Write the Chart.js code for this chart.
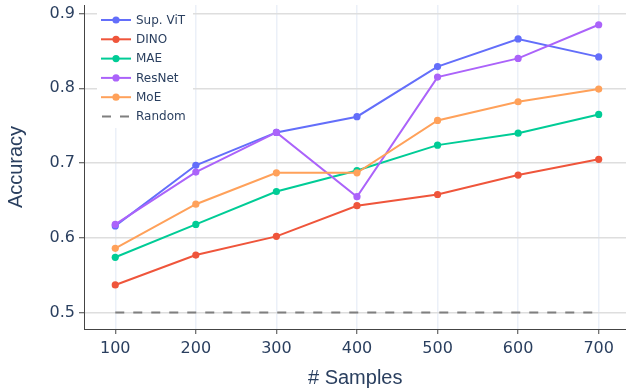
<!DOCTYPE html>
<html>
<head>
<meta charset="utf-8">
<script src="https://cdn.jsdelivr.net/npm/chart.js@4/dist/chart.umd.min.js"></script>
<style>
  html, body { margin: 0; padding: 0; background: #fff; overflow: hidden; }
  #wrap { width: 626px; height: 392px; overflow: hidden; }
</style>
</head>
<body>
<div id="wrap"><canvas id="c" width="630" height="392"></canvas></div>
<script>
// Sample counts on the x axis
const samples = [100, 200, 300, 400, 500, 600, 700];

// Accuracy per model
const supVit = [0.616, 0.697, 0.741, 0.762, 0.829, 0.866, 0.842];
const dino   = [0.537, 0.577, 0.602, 0.643, 0.658, 0.684, 0.705];
const mae    = [0.574, 0.618, 0.662, 0.690, 0.724, 0.740, 0.765];
const resnet = [0.618, 0.688, 0.741, 0.655, 0.815, 0.840, 0.885];
const moe    = [0.586, 0.645, 0.687, 0.687, 0.757, 0.782, 0.799];
const random = [0.5, 0.5, 0.5, 0.5, 0.5, 0.5, 0.5];

// Axis ticks
const xTicks = [100, 200, 300, 400, 500, 600, 700];
const yTicks = [0.5, 0.6, 0.7, 0.8, 0.9];

const seriesNames = ['Sup. ViT', 'DINO', 'MAE', 'ResNet', 'MoE', 'Random'];
const seriesColors = ['#636efa', '#ef553b', '#00cc96', '#ab63fa', '#ffa15a', '#7f7f7f'];
const seriesValues = [supVit, dino, mae, resnet, moe, random];

const toPoints = vals => vals.map((v, i) => ({ x: samples[i], y: v }));

const datasets = seriesValues.map((vals, i) => {
  const isRandom = seriesNames[i] === 'Random';
  return {
    label: seriesNames[i],
    data: toPoints(vals),
    borderColor: seriesColors[i],
    backgroundColor: seriesColors[i],
    borderWidth: 2,
    borderDash: isRandom ? [9, 9] : [],
    pointRadius: isRandom ? 0 : 3.6,
    pointHoverRadius: 0,
    pointBorderWidth: 0,
    tension: 0,
    clip: false
  };
}).reverse(); // first series drawn on top

const textColor = '#2a3f5f';

// Keep the plot area edges fixed: no extra room for edge tick labels
const noEdgePadding = s => {
  s.paddingTop = 0; s.paddingBottom = 0;
  s.paddingLeft = 0; s.paddingRight = 0;
};

// Legend box drawn inside the plot area, top-left
const insetLegend = {
  id: 'insetLegend',
  afterDatasetsDraw(chart) {
    const ctx = chart.ctx;
    ctx.save();
    ctx.fillStyle = '#ffffff';
    ctx.fillRect(97, 5, 96, 123);
    ctx.font = '12px "DejaVu Sans"';
    ctx.textBaseline = 'middle';
    ctx.textAlign = 'left';
    seriesNames.forEach((name, i) => {
      const y = 20 + i * 19.3;
      const color = seriesColors[i];
      ctx.strokeStyle = color;
      ctx.lineWidth = 2;
      ctx.setLineDash(name === 'Random' ? [9, 9] : []);
      ctx.lineDashOffset = name === 'Random' ? -1 : 0;
      ctx.beginPath();
      ctx.moveTo(101, y);
      ctx.lineTo(131, y);
      ctx.stroke();
      ctx.setLineDash([]);
      if (name !== 'Random') {
        ctx.fillStyle = color;
        ctx.beginPath();
        ctx.arc(116, y, 3.6, 0, Math.PI * 2);
        ctx.fill();
      }
      ctx.fillStyle = textColor;
      ctx.fillText(name, 136, y + 0.5);
    });
    ctx.restore();
  }
};

new Chart(document.getElementById('c'), {
  type: 'line',
  data: { datasets },
  options: {
    responsive: false,
    devicePixelRatio: 1,
    animation: false,
    events: [],
    layout: { padding: { top: 5, right: 0, left: 0, bottom: 0 } },
    plugins: {
      legend: { display: false },
      tooltip: { enabled: false }
    },
    scales: {
      x: {
        type: 'linear',
        min: 61.2,
        max: 734.4,
        afterBuildTicks: s => { s.ticks = xTicks.map(v => ({ value: v })); },
        afterFit: s => { s.height = 63; noEdgePadding(s); },
        grid: {
          color: '#ebf0f8',
          lineWidth: 1.5,
          tickColor: '#444',
          tickLength: 5,
          tickWidth: 1
        },
        border: { display: true, color: '#444', width: 1 },
        ticks: {
          color: textColor,
          font: { family: 'DejaVu Sans', size: 16 },
          padding: 5,
          maxRotation: 0,
          callback: v => String(v)
        },
        title: {
          display: true,
          text: '# Samples',
          color: textColor,
          font: { family: 'Liberation Sans', size: 20 },
          padding: { top: 0, bottom: 2 }
        }
      },
      y: {
        type: 'linear',
        min: 0.4781,
        max: 0.9114,
        afterBuildTicks: s => { s.ticks = yTicks.map(v => ({ value: v })); },
        afterFit: s => { s.width = 84; noEdgePadding(s); },
        grid: {
          color: '#dedede',
          lineWidth: 1.5,
          tickColor: '#444',
          tickLength: 5,
          tickWidth: 1
        },
        border: { display: true, color: '#444', width: 1 },
        ticks: {
          color: textColor,
          font: { family: 'DejaVu Sans', size: 16 },
          padding: 4,
          callback: v => v.toFixed(1)
        },
        title: {
          display: true,
          text: 'Accuracy',
          color: textColor,
          font: { family: 'Liberation Sans', size: 20 },
          padding: { top: 4, bottom: 0 }
        }
      }
    }
  },
  plugins: [insetLegend]
});
</script>
</body>
</html>
